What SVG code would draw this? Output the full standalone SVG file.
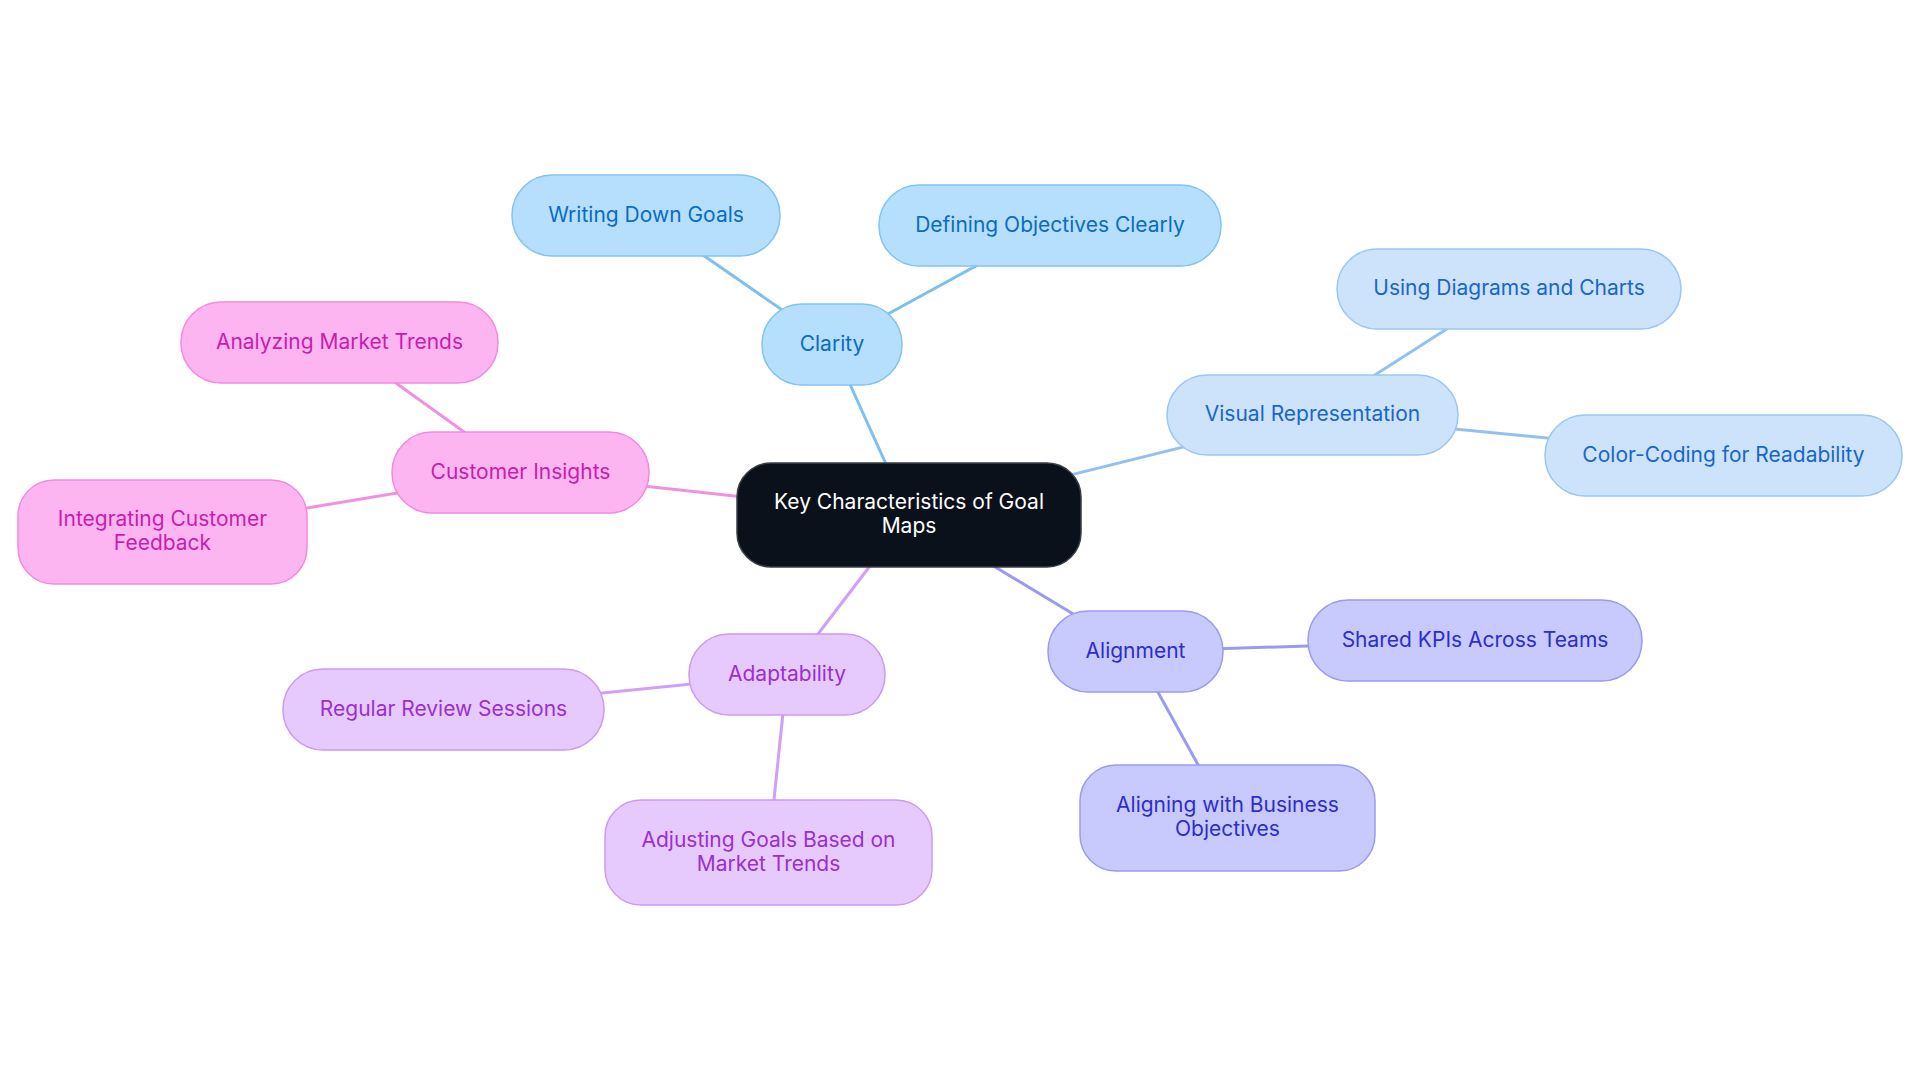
<svg xmlns="http://www.w3.org/2000/svg" width="1920" height="1083" viewBox="0 0 1920 1083">
<style>
text{font-family:Inter,"Noto Sans","Liberation Sans",sans-serif;font-size:21px;text-anchor:middle;dominant-baseline:central}
.ln{stroke-width:3;fill:none}
.b1 rect{fill:#b5dffd;stroke:#83c3f0;stroke-width:1.5}.b1 text{fill:#0c6cc0}
.b2 rect{fill:#cce3fb;stroke:#9cc6f2;stroke-width:1.5}.b2 text{fill:#1a66c8}
.b3 rect{fill:#c8c9fd;stroke:#9a9af0;stroke-width:1.5}.b3 text{fill:#2d2dcc}
.b4 rect{fill:#e6cafd;stroke:#cc9af0;stroke-width:1.5}.b4 text{fill:#9a30d0}
.b5 rect{fill:#fdb5f2;stroke:#f08ae0;stroke-width:1.5}.b5 text{fill:#c81eaa}
</style>
<rect width="1920" height="1083" fill="#ffffff"/>
<g id="connectors">
<line class="ln" stroke="#7dc0ef" x1="909" y1="515" x2="832" y2="344.5"/>
<line class="ln" stroke="#7dc0ef" x1="832" y1="344.5" x2="646" y2="215.5"/>
<line class="ln" stroke="#7dc0ef" x1="832" y1="344.5" x2="1050" y2="225.5"/>
<line class="ln" stroke="#94c0f0" x1="909" y1="515" x2="1312.5" y2="415"/>
<line class="ln" stroke="#94c0f0" x1="1312.5" y1="415" x2="1509" y2="289"/>
<line class="ln" stroke="#94c0f0" x1="1312.5" y1="415" x2="1723.5" y2="455.5"/>
<line class="ln" stroke="#9a9af0" x1="909" y1="515" x2="1135.5" y2="651.5"/>
<line class="ln" stroke="#9a9af0" x1="1135.5" y1="651.5" x2="1475" y2="640.5"/>
<line class="ln" stroke="#9a9af0" x1="1135.5" y1="651.5" x2="1227.5" y2="818"/>
<line class="ln" stroke="#cfa0f5" x1="909" y1="515" x2="787" y2="674.5"/>
<line class="ln" stroke="#cfa0f5" x1="787" y1="674.5" x2="443.5" y2="709"/>
<line class="ln" stroke="#cfa0f5" x1="787" y1="674.5" x2="768.5" y2="852.5"/>
<line class="ln" stroke="#f091e0" x1="909" y1="515" x2="520.5" y2="472.5"/>
<line class="ln" stroke="#f091e0" x1="520.5" y1="472.5" x2="339.5" y2="342.5"/>
<line class="ln" stroke="#f091e0" x1="520.5" y1="472.5" x2="162.5" y2="532"/>
</g>
<g id="root"><rect x="737" y="463" width="344" height="104" rx="34" fill="#0b111b" stroke="#3a3f47" stroke-width="1.5"/><text x="909" y="501.5" fill="#ffffff">Key Characteristics of Goal</text><text x="909" y="525.5" fill="#ffffff">Maps</text></g>
<g id="clarity" class="b1"><rect x="762" y="304" width="140" height="81" rx="40"/><text x="832" y="343">Clarity</text></g>
<g id="writing" class="b1"><rect x="512" y="175" width="268" height="81" rx="40"/><text x="646" y="214">Writing Down Goals</text></g>
<g id="defining" class="b1"><rect x="879" y="185" width="342" height="81" rx="40"/><text x="1050" y="224">Defining Objectives Clearly</text></g>
<g id="visual" class="b2"><rect x="1167" y="375" width="291" height="80" rx="40"/><text x="1312.5" y="413.5">Visual Representation</text></g>
<g id="using" class="b2"><rect x="1337" y="249" width="344" height="80" rx="40"/><text x="1509" y="287.5">Using Diagrams and Charts</text></g>
<g id="color" class="b2"><rect x="1545" y="415" width="357" height="81" rx="40"/><text x="1723.5" y="454">Color-Coding for Readability</text></g>
<g id="alignment" class="b3"><rect x="1048" y="611" width="175" height="81" rx="40"/><text x="1135.5" y="650">Alignment</text></g>
<g id="shared" class="b3"><rect x="1308" y="600" width="334" height="81" rx="40"/><text x="1475" y="639">Shared KPIs Across Teams</text></g>
<g id="aligning" class="b3"><rect x="1080" y="765" width="295" height="106" rx="36"/><text x="1227.5" y="804.5">Aligning with Business</text><text x="1227.5" y="828.5">Objectives</text></g>
<g id="adaptability" class="b4"><rect x="689" y="634" width="196" height="81" rx="40"/><text x="787" y="673">Adaptability</text></g>
<g id="regular" class="b4"><rect x="283" y="669" width="321" height="81" rx="40"/><text x="443.5" y="708">Regular Review Sessions</text></g>
<g id="adjusting" class="b4"><rect x="605" y="800" width="327" height="105" rx="36"/><text x="768.5" y="839">Adjusting Goals Based on</text><text x="768.5" y="863">Market Trends</text></g>
<g id="customer" class="b5"><rect x="392" y="432" width="257" height="81" rx="40"/><text x="520.5" y="471">Customer Insights</text></g>
<g id="analyzing" class="b5"><rect x="181" y="302" width="317" height="81" rx="40"/><text x="339.5" y="341">Analyzing Market Trends</text></g>
<g id="integrating" class="b5"><rect x="18" y="480" width="289" height="104" rx="36"/><text x="162.5" y="518.5">Integrating Customer</text><text x="162.5" y="542.5">Feedback</text></g>
</svg>
